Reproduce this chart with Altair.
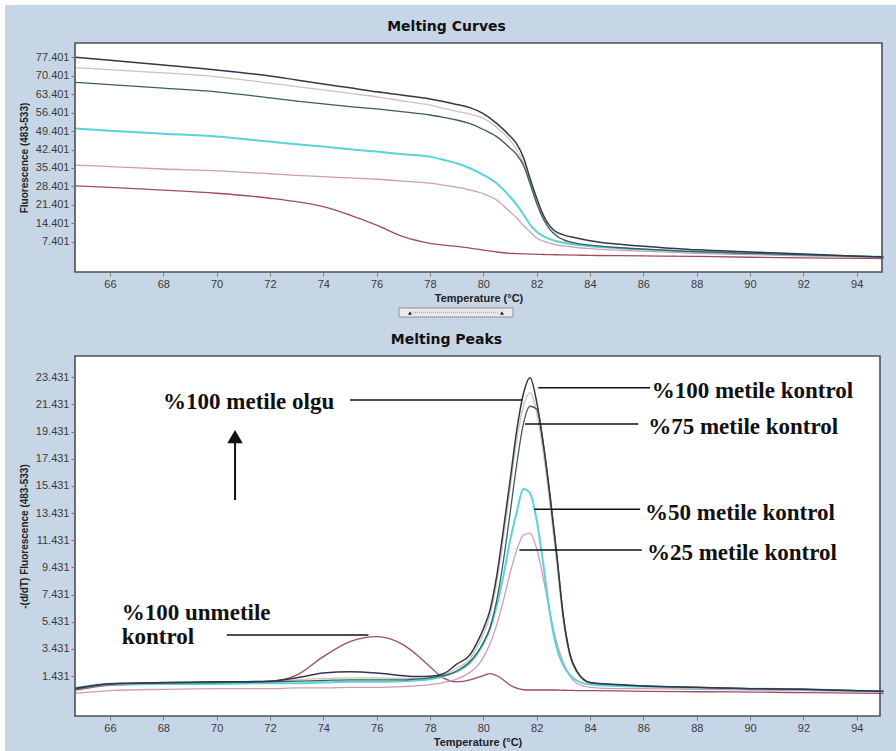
import altair as alt
import pandas as pd

# ---------------- data ----------------
# Melting curves: fluorescence (483-533) against temperature
curve_temp = [64.7, 66, 68, 70, 72, 73, 74, 75, 76, 77, 78, 78.5, 79, 79.5, 80, 80.5,
              81, 81.25, 81.5, 81.75, 82, 82.25, 82.5, 82.75, 83, 83.5, 84, 85, 86,
              88, 90, 92, 94, 95]
curve_m100_ctrl = [77.4, 76.3, 74.5, 72.6, 70.3, 68.8, 67.3, 65.8, 64.3, 63.0, 61.6, 60.6,
                   59.5, 58.3, 56.0, 52.3, 47.5, 44.5, 39.5, 31.5, 24.0, 17.5, 13.3, 11.0,
                   10.0, 8.8, 7.8, 6.5, 5.7, 4.3, 3.5, 2.7, 1.9, 1.6]
curve_m100_case = [73.5, 72.7, 71.5, 70.0, 67.6, 66.3, 65.0, 63.7, 62.4, 60.8, 59.3, 58.0,
                   56.9, 55.8, 54.2, 50.8, 46.0, 42.5, 37.5, 30.0, 22.5, 16.5, 12.3, 10.0,
                   8.0, 6.6, 5.9, 5.0, 4.4, 3.5, 2.9, 2.3, 1.8, 1.5]
curve_m75_ctrl = [67.9, 67.0, 65.7, 64.3, 62.0, 60.8, 59.7, 58.7, 57.8, 56.7, 55.5, 54.6,
                  53.6, 52.2, 50.0, 47.3, 43.0, 40.5, 36.5, 29.5, 22.0, 16.0, 12.0, 9.6,
                  8.2, 6.8, 6.1, 5.2, 4.6, 3.6, 3.0, 2.4, 1.9, 1.6]
curve_m50_ctrl = [50.4, 49.5, 48.4, 47.3, 45.4, 44.4, 43.5, 42.5, 41.6, 40.6, 39.7, 38.5,
                  37.2, 35.3, 32.8, 29.6, 24.5, 21.5, 17.8, 14.0, 11.2, 9.5, 8.4, 7.6,
                  7.0, 6.2, 5.7, 5.0, 4.5, 3.6, 3.0, 2.4, 1.9, 1.7]
curve_m25_ctrl = [36.5, 35.9, 35.0, 34.3, 33.2, 32.6, 32.1, 31.6, 31.1, 30.4, 29.6, 28.9,
                  28.1, 27.0, 25.6, 23.2, 18.8, 16.5, 13.6, 11.2, 8.8, 7.6, 6.8, 6.2,
                  5.8, 5.2, 4.8, 4.2, 3.8, 3.0, 2.5, 2.0, 1.6, 1.4]
curve_u100_ctrl = [28.6, 28.0, 27.0, 25.8, 23.9, 22.6, 20.7, 17.5, 13.7, 9.3, 6.8, 6.1,
                   5.6, 5.0, 4.2, 3.5, 3.0, 2.9, 2.8, 2.7, 2.6, 2.55, 2.5, 2.45, 2.4,
                   2.3, 2.2, 2.1, 2.0, 1.8, 1.5, 1.3, 1.1, 1.0]

# Melting peaks: -(d/dT) fluorescence against temperature
peak_temp = [64.7, 66, 68, 70, 72, 73, 74, 75, 76, 77, 77.5, 78, 78.5, 79, 79.5, 79.75,
             80, 80.25, 80.5, 80.75, 81, 81.25, 81.5, 81.75, 82, 82.25, 82.5, 82.75, 83,
             83.25, 83.5, 84, 85, 86, 88, 90, 92, 94, 95]
peak_m100_ctrl = [0.5, 0.85, 0.95, 1.0, 1.05, 1.3, 1.65, 1.75, 1.65, 1.45, 1.4, 1.42, 1.6,
                  2.3, 3.0, 3.84, 4.9, 6.3, 8.8, 12.2, 15.8, 19.5, 22.2, 23.4, 21.6, 18.5,
                  14.7, 10.4, 5.8, 3.0, 1.8, 0.95, 0.8, 0.7, 0.6, 0.5, 0.45, 0.35, 0.3]
peak_m100_case = [0.55, 0.9, 0.95, 1.0, 1.05, 1.15, 1.25, 1.3, 1.3, 1.25, 1.25, 1.3, 1.5,
                  2.0, 2.7, 3.5, 4.5, 5.9, 8.3, 11.6, 15.2, 18.8, 21.3, 22.3, 20.8, 17.8,
                  14.0, 9.8, 5.4, 2.8, 1.7, 0.9, 0.75, 0.65, 0.55, 0.5, 0.42, 0.33, 0.3]
peak_m75_ctrl = [0.55, 0.85, 0.9, 0.95, 1.0, 1.05, 1.1, 1.15, 1.15, 1.15, 1.2, 1.3, 1.45,
                 1.8, 2.5, 3.1, 3.9, 5.0, 7.0, 9.9, 13.4, 17.0, 20.0, 21.3, 21.1, 18.5,
                 14.7, 10.4, 5.8, 3.0, 1.8, 0.95, 0.8, 0.7, 0.6, 0.5, 0.45, 0.35, 0.3]
peak_m50_ctrl = [0.5, 0.8, 0.85, 0.85, 0.9, 0.9, 0.95, 1.0, 1.0, 1.05, 1.1, 1.2, 1.4,
                 1.75, 2.4, 3.0, 3.8, 4.9, 6.6, 8.8, 11.4, 13.5, 15.2, 14.9, 12.9, 9.6,
                 6.0, 3.5, 2.2, 1.5, 1.1, 0.8, 0.7, 0.65, 0.55, 0.5, 0.45, 0.35, 0.3]
peak_m25_ctrl = [0.15, 0.35, 0.45, 0.5, 0.5, 0.55, 0.55, 0.6, 0.6, 0.65, 0.7, 0.8, 0.95,
                 1.2, 1.7, 2.1, 2.8, 3.8, 5.2, 7.0, 9.0, 10.7, 11.8, 11.95, 10.8, 8.6,
                 6.0, 3.9, 2.4, 1.4, 0.9, 0.6, 0.5, 0.5, 0.45, 0.4, 0.35, 0.3, 0.25]
peak_u100_ctrl = [0.4, 0.75, 0.85, 0.9, 1.05, 1.5, 2.86, 3.96, 4.33, 3.72, 3.0, 2.12, 1.27,
                  1.0, 1.14, 1.3, 1.45, 1.6, 1.45, 1.14, 0.77, 0.53, 0.42, 0.4, 0.4, 0.4,
                  0.4, 0.4, 0.38, 0.37, 0.36, 0.35, 0.33, 0.3, 0.27, 0.25, 0.2, 0.17, 0.15]

x_ticks = [66, 68, 70, 72, 74, 76, 78, 80, 82, 84, 86, 88, 90, 92, 94]
curve_y_ticks = [7.401, 14.401, 21.401, 28.401, 35.401, 42.401, 49.401, 56.401, 63.401, 70.401, 77.401]
peak_y_ticks = [1.431, 3.431, 5.431, 7.431, 9.431, 11.431, 13.431, 15.431, 17.431, 19.431, 21.431, 23.431]

# Sample names, drawing order (light ones first, darkest on top) and colours
series_names = ["%100 metile olgu", "%100 unmetile kontrol", "%25 metile kontrol",
                "%50 metile kontrol", "%75 metile kontrol", "%100 metile kontrol"]
series_colors = ["#c9c3ba", "#a04c5e", "#cf9db6", "#58d3db", "#3e5e58", "#34364a"]
series_widths = [1.3, 1.3, 1.3, 2.0, 1.3, 1.5]

curve_values = [curve_m100_case, curve_u100_ctrl, curve_m25_ctrl, curve_m50_ctrl,
                curve_m75_ctrl, curve_m100_ctrl]
peak_values = [peak_m100_case, peak_u100_ctrl, peak_m25_ctrl, peak_m50_ctrl,
               peak_m75_ctrl, peak_m100_ctrl]

# Callout labels on the peaks panel: text, label anchor (T, value), leader line (T1, T2, value)
callout_text = ["%100 metile olgu", "%100 metile kontrol", "%75 metile kontrol",
                "%50 metile kontrol", "%25 metile kontrol"]
callout_tx = [67.99, 86.31, 86.18, 86.06, 86.13]
callout_ty = [21.63, 22.44, 19.75, 13.46, 10.47]
leader_t1 = [75.0, 82.06, 81.56, 81.90, 81.35, 70.38]
leader_t2 = [81.45, 86.25, 85.81, 85.88, 85.94, 75.69]
leader_v = [21.76, 22.67, 19.99, 13.71, 10.71, 4.45]

# ---------------- layout / style ----------------
BG = "#c6d6e7"
FRAME = "#4d5057"
LABEL_FONT = "Liberation Sans"
W_TOP, H_TOP = 807, 229
W_BOT, H_BOT = 805, 360


def long_frame(temps, value_lists):
    rows = []
    for name, vals in zip(series_names, value_lists):
        for t, v in zip(temps, vals):
            rows.append({"T": t, "F": v, "series": name})
    return pd.DataFrame(rows)


def axis_x():
    return alt.Axis(values=x_ticks, format="d", grid=False, domain=False,
                    tickColor="#777", tickSize=4, labelFont=LABEL_FONT, labelFontSize=11,
                    labelColor="#3a3a3a", labelPadding=2, title="Temperature (°C)",
                    titleFont=LABEL_FONT, titleFontSize=11, titleFontWeight="bold",
                    titleColor="#222", titlePadding=3, zindex=1)


def axis_y(ticks, title):
    return alt.Axis(values=ticks, format=".3f", grid=False, domain=False,
                    tickColor="#777", tickSize=4, labelFont=LABEL_FONT, labelFontSize=11,
                    labelColor="#3a3a3a", labelPadding=2, title=title,
                    titleFont=LABEL_FONT, titleFontSize=10, titleFontWeight="bold",
                    titleColor="#222", titlePadding=6, zindex=1)


one_row = alt.Data(values=[{}])


def panel(df, xdom, ydom, yticks, ytitle, w, h, title, backdrop=False):
    xs = alt.Scale(domain=xdom, nice=False, zero=False)
    ys = alt.Scale(domain=ydom, nice=False, zero=False)

    def X(field):
        return alt.X(field, type="quantitative", scale=xs, axis=axis_x())

    def Y(field):
        return alt.Y(field, type="quantitative", scale=ys, axis=axis_y(yticks, ytitle))

    layers = []
    if backdrop:
        # steel-blue window behind both panels
        layers.append(alt.Chart(one_row).mark_rect(fill=BG).encode(
            x=alt.value(-70), x2=alt.value(821), y=alt.value(-38), y2=alt.value(708)))
    layers.append(alt.Chart(one_row).mark_rect(fill="white").encode(
        x=alt.value(0), x2=alt.value(w), y=alt.value(0), y2=alt.value(h)))
    for name, col, sw in zip(series_names, series_colors, series_widths):
        layers.append(
            alt.Chart(df).transform_filter(alt.datum.series == name)
            .mark_line(color=col, strokeWidth=sw, interpolate="monotone")
            .encode(x=X("T"), y=Y("F"))
        )
    layers.append(alt.Chart(one_row).mark_rect(fillOpacity=0, stroke=FRAME, strokeWidth=1.6).encode(
        x=alt.value(0), x2=alt.value(w), y=alt.value(0), y2=alt.value(h)))
    layers.append(alt.Chart(one_row).mark_text(
        text=title, font="DejaVu Sans", fontWeight="bold", fontSize=14, color="#111",
        align="center", baseline="middle").encode(x=alt.value(371.5), y=alt.value(-16)))
    return layers, X, Y


# ---------- top panel: melting curves ----------
curves_df = long_frame(curve_temp, curve_values)
top_layers, _, _ = panel(curves_df, [64.69, 94.95], [-4.10, 82.83], curve_y_ticks,
                         "Fluorescence (483-533)", W_TOP, H_TOP, "Melting Curves",
                         backdrop=True)

# small range slider under the temperature axis
top_layers.append(alt.Chart(one_row).mark_rect(fill="#efeaea", stroke="#8a8f99", strokeWidth=1).encode(
    x=alt.value(324), x2=alt.value(438), y=alt.value(265), y2=alt.value(274)))
top_layers.append(alt.Chart(one_row).mark_rule(color="#a9a9b8", strokeDash=[1, 1], strokeWidth=1.5).encode(
    x=alt.value(338), x2=alt.value(424), y=alt.value(269.5)))
top_layers.append(alt.Chart(alt.Data(values=[{"p": 335}, {"p": 427}])).mark_point(
    shape="triangle-up", filled=True, color="#222", size=16, opacity=1).encode(
    x=alt.X("p:Q", scale=None), y=alt.value(270)))

top = alt.layer(*top_layers).properties(width=W_TOP, height=H_TOP)

# ---------- bottom panel: melting peaks ----------
peaks_df = long_frame(peak_temp, peak_values)
bot_layers, Xb, Yb = panel(peaks_df, [64.69, 94.87], [-1.515, 25.0], peak_y_ticks,
                           "-(d/dT) Fluorescence (483-533)", W_BOT, H_BOT, "Melting Peaks")

leaders = pd.DataFrame({"t1": leader_t1, "t2": leader_t2, "v": leader_v})
bot_layers.append(alt.Chart(leaders).mark_rule(color="#111", strokeWidth=1.5).encode(
    x=Xb("t1"), x2="t2:Q", y=Yb("v")))

labels = pd.DataFrame({"label": callout_text, "t": callout_tx, "v": callout_ty})
label_style = dict(font="Liberation Serif", fontWeight="bold", fontSize=23, color="#111",
                   align="left", baseline="middle")
bot_layers.append(alt.Chart(labels).mark_text(**label_style).encode(
    x=Xb("t"), y=Yb("v"), text="label:N"))
# two-line label for the unmethylated control
unmet = pd.DataFrame({"label": ["%100 unmetile", "kontrol"], "t": [66.44, 66.44], "v": [6.05, 4.33]})
bot_layers.append(alt.Chart(unmet).mark_text(**label_style).encode(
    x=Xb("t"), y=Yb("v"), text="label:N"))

# upward arrow under the case label
arrow = pd.DataFrame({"t": [70.69], "v0": [14.4], "v1": [18.7], "head": [19.06]})
bot_layers.append(alt.Chart(arrow).mark_rule(color="#111", strokeWidth=2).encode(
    x=Xb("t"), y=Yb("v0"), y2="v1:Q"))
bot_layers.append(alt.Chart(arrow).mark_point(shape="triangle-up", filled=True, color="#111",
                                              size=240, opacity=1).encode(
    x=Xb("t"), y=Yb("head")))

bottom = alt.layer(*bot_layers).properties(width=W_BOT, height=H_BOT)

chart = alt.vconcat(top, bottom, spacing=84, bounds="flush").properties(
    padding={"left": 5, "top": 5, "right": 0, "bottom": 0},
    background="white",
).configure_view(strokeWidth=0)

chart.save("out.html", embed_options={"renderer": "svg", "actions": False})
